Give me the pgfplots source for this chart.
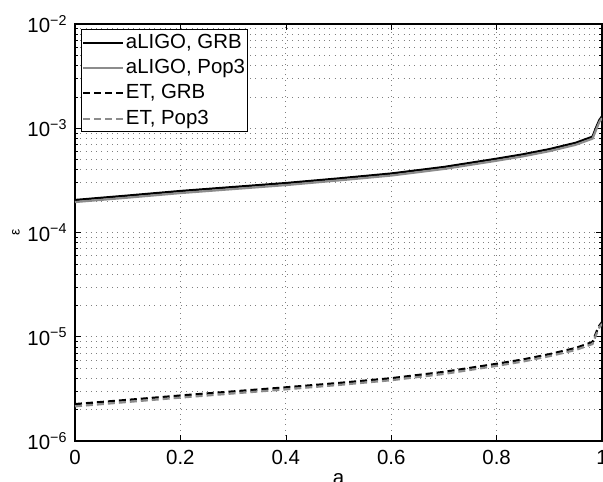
\documentclass[border=0pt]{standalone}
\usepackage{pgfplots}
\pgfplotsset{compat=1.18}
\usepackage{fontspec}
\setmainfont{Liberation Sans}
\pgfplotstableread{
x ag ap eg ep
0.000 2.05e-4 1.96e-4 2.26e-6 2.15e-6
0.100 2.26e-4 2.16e-4 2.48e-6 2.37e-6
0.200 2.50e-4 2.39e-4 2.73e-6 2.61e-6
0.300 2.73e-4 2.61e-4 2.99e-6 2.86e-6
0.400 2.98e-4 2.85e-4 3.27e-6 3.13e-6
0.500 3.30e-4 3.16e-4 3.60e-6 3.45e-6
0.600 3.68e-4 3.52e-4 4.00e-6 3.83e-6
0.700 4.25e-4 4.07e-4 4.60e-6 4.40e-6
0.800 5.10e-4 4.88e-4 5.50e-6 5.26e-6
0.850 5.62e-4 5.38e-4 6.05e-6 5.79e-6
0.900 6.30e-4 6.03e-4 6.80e-6 6.51e-6
0.950 7.25e-4 6.94e-4 7.80e-6 7.47e-6
0.982 8.30e-4 7.95e-4 8.90e-6 8.52e-6
0.990 1.05e-3 1.00e-3 1.13e-5 1.08e-5
0.995 1.20e-3 1.15e-3 1.28e-5 1.23e-5
1.000 1.30e-3 1.25e-3 1.38e-5 1.33e-5
}\data
\begin{document}
\fontsize{20.5}{24}\selectfont
\begin{tikzpicture}
\begin{axis}[name=ax, at={(0,0)}, anchor=south west,
  scale only axis, width=527bp, height=417bp,
  xmin=0, xmax=1, ymode=log, ymin=1e-6, ymax=1e-2,
  xtick={0,0.2,0.4,0.6,0.8,1}, xticklabels={0,0.2,0.4,0.6,0.8,1},
  ytick={1e-6,1e-5,1e-4,1e-3,1e-2},
  yticklabels={10\textsuperscript{−6},10\textsuperscript{−5},10\textsuperscript{−4},10\textsuperscript{−3},10\textsuperscript{−2}},
  tick align=inside, xtick pos=both, ytick pos=both,
  major tick length=6bp, minor tick length=3bp,
  every tick/.style={black, line width=0.6bp},
  axis line style={black, line width=1.1bp},
  grid=both,
  major grid style={black!50, line width=0.7bp, dash pattern=on 0.9bp off 4.4bp},
  minor grid style={black!50, line width=0.7bp, dash pattern=on 0.9bp off 4.4bp},
  minor x tick num=0,
  tick label style={font=\fontsize{20.5}{24}\selectfont},
  xticklabel style={yshift=-2bp},
  yticklabel style={xshift=-1bp},
  xlabel={a}, ylabel={ε},
  xlabel style={font=\fontsize{20.5}{24}\selectfont, yshift=5bp},
  ylabel style={font=\fontsize{14}{16}\selectfont, yshift=-6bp},
  legend style={at={(0,1)}, anchor=north west, xshift=6bp, yshift=-5bp,
    draw=black, line width=0.8bp, inner xsep=1bp, inner ysep=3bp,
    font=\fontsize{20.5}{24}\selectfont, row sep=5bp,
    nodes={inner sep=1.5bp}},
  legend cell align=left,
  legend image code/.code={\draw[#1, line width=2bp] (0bp,0bp) -- (40bp,0bp);},
]
\addplot[black, line width=2.2bp] table[x=x, y=ag] {\data};
\addlegendentry{aLIGO, GRB}
\addplot[black!45, line width=2.2bp] table[x=x, y=ap] {\data};
\addlegendentry{aLIGO, Pop3}
\addplot[black, line width=2.2bp, dash pattern=on 7bp off 4bp] table[x=x, y=eg] {\data};
\addlegendentry{ET, GRB}
\addplot[black!45, line width=2.2bp, dash pattern=on 7bp off 4bp] table[x=x, y=ep] {\data};
\addlegendentry{ET, Pop3}
\end{axis}
\pgfresetboundingbox
\path ([xshift=-75bp,yshift=-41bp]ax.south west) rectangle ([xshift=1bp,yshift=24bp]ax.north east);
\end{tikzpicture}
\end{document}
